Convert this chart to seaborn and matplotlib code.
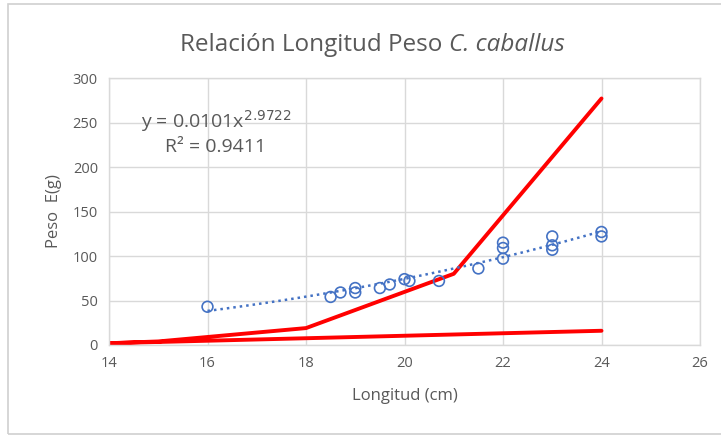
import numpy as np
import pandas as pd
import matplotlib
matplotlib.use('Agg')
import matplotlib.pyplot as plt
import seaborn as sns
from matplotlib.patches import Rectangle

# observed length / weight
longitud = [16.0, 18.5, 18.7, 19.0, 19.0, 19.5, 19.7, 20.0, 20.1, 20.7,
            21.5, 22.0, 22.0, 22.0, 23.0, 23.0, 23.0, 24.0, 24.0]
peso = [43, 54, 59, 59, 64, 64, 68, 74, 72, 72,
        86, 115, 109, 97, 122, 112, 107, 127, 122]

# red polyline as drawn in the chart (unsorted x)
red_x = [24, 14, 15, 18, 21, 24]
red_y = [16, 2, 4, 19, 80, 277]

# power trendline coefficients shown on the chart
A_COEF = 0.0101
B_EXP = 2.9722

GRAY = '#595959'
GRID = '#d9d9d9'

sns.set_theme(style='whitegrid')
plt.rcParams['font.family'] = ['Open Sans', 'DejaVu Sans']

fig = plt.figure(figsize=(7.21, 4.36), dpi=100)
ax = fig.add_axes([109 / 721, 1 - 345 / 436, 591 / 721, 267 / 436])

df = pd.DataFrame({'Longitud': longitud, 'Peso': peso})

sns.lineplot(x=red_x, y=red_y, sort=False, color='#ff0000', linewidth=2.8,
             estimator=None, ax=ax, zorder=2)

xt = np.linspace(min(longitud), max(longitud), 60)
sns.lineplot(x=xt, y=A_COEF * xt ** B_EXP, color='#4472c4', linewidth=1.8,
             linestyle=(0, (1, 1.6)), ax=ax, zorder=3)

sns.scatterplot(data=df, x='Longitud', y='Peso', marker='o', s=60,
                facecolor='none', edgecolor='#4472c4', linewidth=1.2,
                ax=ax, zorder=4)

ax.set_xlim(14, 26)
ax.set_ylim(0, 300)
ax.set_xticks(range(14, 27, 2))
ax.set_yticks(range(0, 301, 50))
ax.grid(True, color=GRID, linewidth=1)
for s in ax.spines.values():
    s.set_color(GRID)
    s.set_linewidth(1)
ax.tick_params(colors=GRAY, labelsize=10.5, length=0, pad=8)
ax.set_xlabel('Longitud (cm)', color=GRAY, fontsize=12, labelpad=12)
ax.set_ylabel('Peso  E(g)', color=GRAY, fontsize=12, labelpad=8)

# title: plain part + italic species name
fig.text(442 / 721, 1 - 45 / 436, 'Relación Longitud Peso',
         ha='right', va='center', color=GRAY, fontsize=17.5)
fig.text(449 / 721, 1 - 45 / 436, 'C. caballus', style='italic',
         ha='left', va='center', color=GRAY, fontsize=17.5)

fig.text(216 / 721, 1 - 121 / 436, 'y = 0.0101x$^{2.9722}$',
         ha='center', va='center', color=GRAY, fontsize=14)
fig.text(216 / 721, 1 - 147 / 436, 'R² = 0.9411',
         ha='center', va='center', color=GRAY, fontsize=14)

fig.patches.append(Rectangle((8 / 721, 1 - 434 / 436), 720 / 721, 430 / 436,
                             transform=fig.transFigure, fill=False,
                             edgecolor='#d0d0d0', linewidth=1.2))

fig.savefig('out.png', dpi=100)
